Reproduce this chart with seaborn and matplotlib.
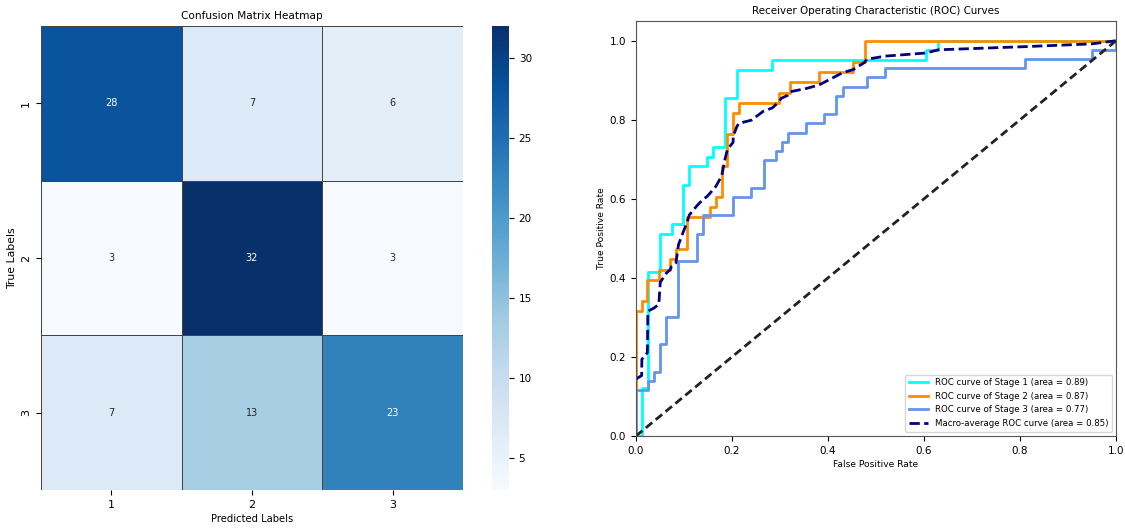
import numpy as np
import pandas as pd
import matplotlib
matplotlib.use("Agg")
import matplotlib.pyplot as plt
import seaborn as sns

plt.rcParams['font.family'] = ['DejaVu Sans']

# ---------------- data ----------------
class_labels = ["1", "2", "3"]
cm_row_1 = [28, 7, 6]
cm_row_2 = [3, 32, 3]
cm_row_3 = [7, 13, 23]

stage1_fpr = [0.0, 0.0123, 0.0123, 0.0247, 0.0247, 0.0494, 0.0494, 0.0741, 0.0741, 0.0988, 0.0988,
              0.1111, 0.1111, 0.1481, 0.1481, 0.1605, 0.1605, 0.1852, 0.1852, 0.2099, 0.2099,
              0.2840, 0.2840, 0.6049, 0.6049, 0.6296, 0.6296, 1.0]
stage1_tpr = [0.0, 0.0, 0.122, 0.122, 0.415, 0.415, 0.512, 0.512, 0.537, 0.537, 0.634,
              0.634, 0.683, 0.683, 0.707, 0.707, 0.732, 0.732, 0.854, 0.854, 0.927,
              0.927, 0.951, 0.951, 0.976, 0.976, 1.0, 1.0]

stage2_fpr = [0.0, 0.0, 0.0119, 0.0119, 0.0238, 0.0238, 0.0476, 0.0476, 0.0714, 0.0714, 0.0833,
              0.0833, 0.1071, 0.1071, 0.1548, 0.1548, 0.1667, 0.1667, 0.1786, 0.1786, 0.1905,
              0.1905, 0.2024, 0.2024, 0.2143, 0.2143, 0.2976, 0.2976, 0.3214, 0.3214, 0.3810,
              0.3810, 0.4524, 0.4524, 0.4762, 0.4762, 1.0]
stage2_tpr = [0.0, 0.316, 0.316, 0.342, 0.342, 0.395, 0.395, 0.421, 0.421, 0.447, 0.447,
              0.474, 0.474, 0.553, 0.553, 0.579, 0.579, 0.605, 0.605, 0.684, 0.684,
              0.763, 0.763, 0.816, 0.816, 0.842, 0.842, 0.868, 0.868, 0.895, 0.895,
              0.921, 0.921, 0.947, 0.947, 1.0, 1.0]

stage3_fpr = [0.0, 0.0, 0.0253, 0.0253, 0.0380, 0.0380, 0.0506, 0.0506, 0.0633, 0.0633, 0.0886,
              0.0886, 0.1266, 0.1266, 0.1392, 0.1392, 0.2025, 0.2025, 0.2405, 0.2405, 0.2658,
              0.2658, 0.2911, 0.2911, 0.3038, 0.3038, 0.3165, 0.3165, 0.3544, 0.3544, 0.3924,
              0.3924, 0.4177, 0.4177, 0.4304, 0.4304, 0.4810, 0.4810, 0.5190, 0.5190, 0.8101,
              0.8101, 0.9494, 0.9494, 1.0, 1.0]
stage3_tpr = [0.0, 0.116, 0.116, 0.140, 0.140, 0.163, 0.163, 0.233, 0.233, 0.302, 0.302,
              0.442, 0.442, 0.512, 0.512, 0.558, 0.558, 0.605, 0.605, 0.628, 0.628,
              0.698, 0.698, 0.721, 0.721, 0.744, 0.744, 0.767, 0.767, 0.791, 0.791,
              0.814, 0.814, 0.860, 0.860, 0.884, 0.884, 0.907, 0.907, 0.930, 0.930,
              0.953, 0.953, 0.977, 0.977, 1.0]

macro_fpr = [0.0, 0.0119, 0.0123, 0.0238, 0.0247, 0.0253, 0.0380, 0.0476, 0.0494, 0.0506,
             0.0633, 0.0714, 0.0741, 0.0833, 0.0886, 0.0988, 0.1071, 0.1111, 0.1266, 0.1392,
             0.1481, 0.1548, 0.1605, 0.1667, 0.1786, 0.1852, 0.1905, 0.2024, 0.2025, 0.2099,
             0.2143, 0.2405, 0.2658, 0.2840, 0.2911, 0.2976, 0.3038, 0.3165, 0.3214, 0.3544,
             0.3810, 0.3924, 0.4177, 0.4304, 0.4524, 0.4762, 0.4810, 0.5190, 0.6049, 0.6296,
             0.8101, 0.9494, 1.0]
macro_tpr = [0.144, 0.153, 0.194, 0.211, 0.309, 0.316, 0.324, 0.333, 0.365, 0.389,
             0.412, 0.421, 0.429, 0.438, 0.484, 0.517, 0.543, 0.559, 0.582, 0.598,
             0.606, 0.615, 0.623, 0.632, 0.658, 0.699, 0.725, 0.743, 0.758, 0.782,
             0.791, 0.799, 0.822, 0.830, 0.838, 0.847, 0.855, 0.862, 0.871, 0.879,
             0.888, 0.895, 0.911, 0.919, 0.927, 0.945, 0.953, 0.961, 0.969, 0.977,
             0.985, 0.992, 1.0]

chance_line = [0.0, 1.0]

stage_names = ["Stage 1", "Stage 2", "Stage 3"]
stage_auc = [0.89, 0.87, 0.77]
macro_auc = 0.85
stage_colors = ["aqua", "darkorange", "cornflowerblue"]

# ---------------- figure ----------------
fig = plt.figure(figsize=(11.25, 5.32), dpi=100)
ax_hm = fig.add_axes([0.0364, 0.0789, 0.3751, 0.8722])
ax_cb = fig.add_axes([0.4373, 0.0789, 0.0151, 0.8722])
ax_roc = fig.add_axes([0.5653, 0.1805, 0.4267, 0.7801])

cm = pd.DataFrame([cm_row_1, cm_row_2, cm_row_3], index=class_labels, columns=class_labels)
sns.heatmap(cm, annot=True, fmt="d", cmap="Blues", ax=ax_hm, cbar_ax=ax_cb,
            linewidths=0.5, linecolor="#444444", annot_kws={"size": 7})
ax_hm.set_title("Confusion Matrix Heatmap", fontsize=7.6, pad=5)
ax_hm.set_xlabel("Predicted Labels", fontsize=7.2, labelpad=3)
ax_hm.set_ylabel("True Labels", fontsize=7.8, labelpad=3)
ax_hm.tick_params(labelsize=8)
ax_cb.tick_params(labelsize=7.5)

fprs = [stage1_fpr, stage2_fpr, stage3_fpr]
tprs = [stage1_tpr, stage2_tpr, stage3_tpr]
for f, t, name, auc, col in zip(fprs, tprs, stage_names, stage_auc, stage_colors):
    sns.lineplot(x=f, y=t, sort=False, estimator=None, color=col, lw=2, ax=ax_roc,
                 label=f"ROC curve of {name} (area = {auc:.2f})")
sns.lineplot(x=macro_fpr, y=macro_tpr, sort=False, estimator=None, color="navy", lw=2,
             linestyle="--", dashes=(2.6, 1.6), ax=ax_roc,
             label=f"Macro-average ROC curve (area = {macro_auc:.2f})")
ax_roc.plot(chance_line, chance_line, color="#222222", linestyle="--", dashes=(3, 1.6), lw=2)
ax_roc.set_xlim(0.0, 1.0)
ax_roc.set_ylim(0.0, 1.05)
ax_roc.set_xlabel("False Positive Rate", fontsize=6.6, labelpad=3)
ax_roc.set_ylabel("True Positive Rate", fontsize=6.6, labelpad=3)
ax_roc.set_title("Receiver Operating Characteristic (ROC) Curves", fontsize=7.4, pad=5)
ax_roc.tick_params(labelsize=7.5)
ax_roc.legend(loc="lower right", fontsize=6.2, labelspacing=0.55, handlelength=2.2)
for s in ax_roc.spines.values():
    s.set_color("#555555")

fig.savefig("out.png", dpi=100)
